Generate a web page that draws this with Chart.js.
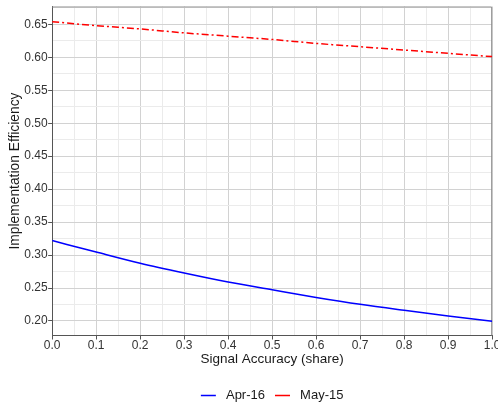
<!DOCTYPE html>
<html>
<head>
<meta charset="utf-8">
<script src="https://cdn.jsdelivr.net/npm/chart.js@4"></script>
<style>
  html, body { margin: 0; padding: 0; background: #fff; overflow: hidden; }
  #wrap { width: 501px; height: 412px; }
</style>
</head>
<body>
<div id="wrap"><canvas id="myChart"></canvas></div>
<script>
/*data*/
const accuracy = [0.0, 0.1, 0.2, 0.3, 0.4, 0.5, 0.6, 0.7, 0.8, 0.9, 1.0];
const apr16 = [0.322, 0.3045, 0.2875, 0.2727, 0.259, 0.2473, 0.2358, 0.2253, 0.2162, 0.2076, 0.1997];
const may15 = [0.654, 0.648, 0.643, 0.637, 0.632, 0.627, 0.621, 0.616, 0.611, 0.606, 0.601];
const xTicks = [0, 0.05, 0.1, 0.15, 0.2, 0.25, 0.3, 0.35, 0.4, 0.45, 0.5, 0.55, 0.6, 0.65, 0.7, 0.75, 0.8, 0.85, 0.9, 0.95, 1.0];
const yTicks = [0.2, 0.225, 0.25, 0.275, 0.3, 0.325, 0.35, 0.375, 0.4, 0.425, 0.45, 0.475, 0.5, 0.525, 0.55, 0.575, 0.6, 0.625, 0.65, 0.675];

const fontFamily = '"Liberation Sans", Arial, sans-serif';

function isMajor(v, step) {
    return Math.abs(v / step - Math.round(v / step)) < 1e-6;
}

/*frame around plot area*/
const frame = {
    id: 'frame',
    beforeDatasetsDraw(chart) {
        const a = chart.chartArea;
        const c = chart.ctx;
        c.save();
        c.strokeStyle = '#8c8c8c';
        c.lineWidth = 1;
        c.beginPath();
        c.moveTo(a.left, a.top + 0.5);
        c.lineTo(a.right - 0.5, a.top + 0.5);
        c.lineTo(a.right - 0.5, a.bottom);
        c.stroke();
        c.restore();
    }
};

var ctx = document.getElementById('myChart').getContext('2d');

var chart = new Chart(ctx, {
    type: 'line',
    data: {
        datasets: [{
            label: 'Apr-16',
            data: accuracy.map((x, i) => ({ x: x, y: apr16[i] })),
            borderColor: '#0000ff',
            backgroundColor: '#0000ff',
            borderWidth: 1.5,
            pointRadius: 0,
            cubicInterpolationMode: 'monotone'
        },
        {
            label: 'May-15',
            data: accuracy.map((x, i) => ({ x: x, y: may15[i] })),
            borderColor: '#ff0000',
            backgroundColor: '#ff0000',
            borderWidth: 1.5,
            borderDash: [7, 3, 2, 3],
            pointRadius: 0,
            cubicInterpolationMode: 'monotone'
        }]
    },
    options: {
        responsive: true,
        maintainAspectRatio: false,
        animation: false,
        layout: { padding: { left: 8, right: 0, top: 3, bottom: 0 } },
        plugins: {
            legend: {
                position: 'bottom',
                fullSize: false,
                labels: {
                    usePointStyle: true,
                    pointStyle: 'line',
                    pointStyleWidth: 15,
                    color: '#1a1a1a',
                    padding: 10,
                    font: { family: fontFamily, size: 13 },
                    // little extra room between the line sample and the text
                    generateLabels: (chart) => Chart.defaults.plugins.legend.labels.generateLabels(chart)
                        .map(l => Object.assign(l, { text: ' ' + l.text, lineDash: [] }))
                }
            },
            tooltip: { enabled: false }
        },
        scales: {
            x: {
                type: 'linear',
                min: 0,
                max: 1,
                afterBuildTicks: (scale) => { scale.ticks = xTicks.map(v => ({ value: v })); },
                ticks: {
                    autoSkip: false,
                    maxRotation: 0,
                    color: '#333',
                    padding: 0.5,
                    font: { family: fontFamily, size: 12, lineHeight: 1 },
                    callback: (v) => isMajor(v, 0.1) ? v.toFixed(1) : ''
                },
                grid: {
                    color: (c) => isMajor(c.tick.value, 0.1) ? '#d2d2d2' : '#ebebeb',
                    tickColor: (c) => isMajor(c.tick.value, 0.1) ? '#555' : 'rgba(0,0,0,0)',
                    tickLength: 4
                },
                border: { color: '#555', width: 1 },
                title: {
                    display: true,
                    text: 'Signal Accuracy (share)',
                    color: '#1a1a1a',
                    padding: { top: 0.5, bottom: 12.5 },
                    font: { family: fontFamily, size: 13.5, lineHeight: 1 }
                }
            },
            y: {
                type: 'linear',
                min: 0.178,
                max: 0.677,
                afterBuildTicks: (scale) => { scale.ticks = yTicks.map(v => ({ value: v })); },
                ticks: {
                    autoSkip: false,
                    color: '#333',
                    padding: 0.5,
                    font: { family: fontFamily, size: 12, lineHeight: 1 },
                    callback: (v) => isMajor(v, 0.05) ? v.toFixed(2) : ''
                },
                grid: {
                    color: (c) => isMajor(c.tick.value, 0.05) ? '#d2d2d2' : '#ebebeb',
                    tickColor: (c) => isMajor(c.tick.value, 0.05) ? '#555' : 'rgba(0,0,0,0)',
                    tickLength: 4
                },
                border: { color: '#555', width: 1 },
                title: {
                    display: true,
                    text: 'Implementation Efficiency',
                    color: '#1a1a1a',
                    padding: { top: 0, bottom: 2 },
                    font: { family: fontFamily, size: 13.8, lineHeight: 1 }
                }
            }
        }
    },
    plugins: [frame]
});
</script>
</body>
</html>
